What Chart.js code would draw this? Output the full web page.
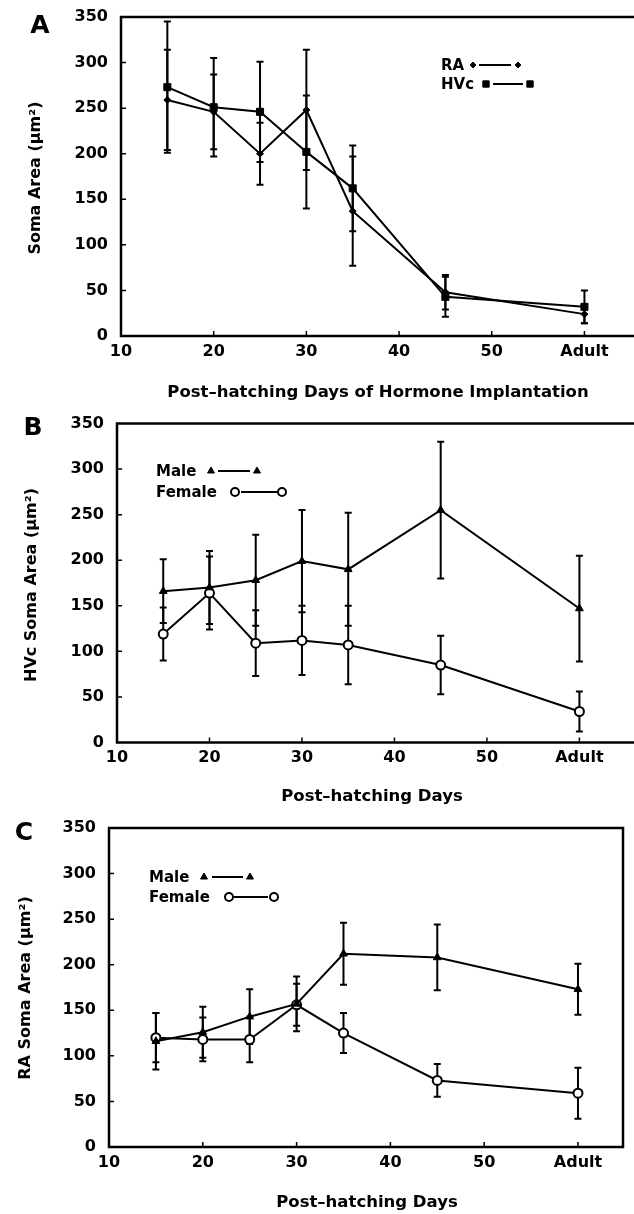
<!DOCTYPE html>
<html><head><meta charset="utf-8">
<script src="https://cdn.jsdelivr.net/npm/chart.js@4.4.1/dist/chart.umd.min.js"></script>
<style>
html,body{margin:0;padding:0;background:#fff;}
body{width:634px;height:1214px;position:relative;overflow:hidden;}
canvas{position:absolute;left:0;top:0;}
</style></head><body>
<canvas id="cA" width="634" height="1214"></canvas>
<canvas id="cB" width="634" height="1214"></canvas>
<canvas id="cC" width="634" height="1214"></canvas>
<script>
// ---- data ----
const days = [15, 20, 25, 30, 35, 45, 60];
const xTickValues = [10, 20, 30, 40, 50, 60];
const xTickLabels = ['10', '20', '30', '40', '50', 'Adult'];
const yTickValues = [0, 50, 100, 150, 200, 250, 300, 350];

const aRA = [259, 246, 200, 248, 137, 48, 24];
const aRAErr = [55, 41, 34, 66, 60, 19, 10];
const aHVc = [273, 251, 246, 202, 162, 43, 32];
const aHVcErr = [72, 54, 55, 62, 47, 22, 18];

const bMale = [166, 170, 178, 199, 190, 255, 147];
const bMaleErr = [35, 40, 50, 56, 62, 75, 58];
const bFemale = [119, 164, 109, 112, 107, 85, 34];
const bFemaleErr = [29, 40, 36, 38, 43, 32, 22];

const cMale = [116, 126, 143, 157, 212, 208, 173];
const cMaleErr = [31, 28, 30, 30, 34, 36, 28];
const cFemale = [120, 118, 118, 156, 125, 73, 59];
const cFemaleErr = [27, 24, 25, 23, 22, 18, 28];

// ---- rendering ----
const W = 634, H = 1214;
const FONT = "'DejaVu Sans', sans-serif";

const styles = {
  diamond: {pointStyle: 'rectRot', radius: 3.5, fill: '#000', bw: 1},
  square: {pointStyle: 'rect', radius: 5, fill: '#000', bw: 1},
  triangle: {pointStyle: 'triangle', radius: 4.5, fill: '#000', bw: 1},
  circle: {pointStyle: 'circle', radius: 4.5, fill: '#fff', bw: 2}
};

function mkDataset(label, vals, errs, st) {
  const s = styles[st];
  return {
    label: label,
    data: days.map((d, i) => ({x: d, y: vals[i]})),
    errors: errs,
    borderColor: '#000', borderWidth: 2, tension: 0,
    pointStyle: s.pointStyle, pointRadius: s.radius,
    pointBackgroundColor: s.fill, pointBorderColor: '#000', pointBorderWidth: s.bw,
    fill: false
  };
}

const framePlugin = {
  id: 'frame',
  beforeDatasetsDraw(chart) {
    const o = chart.options.plugins.frame;
    const ctx = chart.ctx, a = chart.chartArea;
    const xs = chart.scales.x, ys = chart.scales.y;
    ctx.save();
    ctx.strokeStyle = '#000';
    ctx.lineWidth = 2.5;
    ctx.lineCap = 'square';
    ctx.beginPath();
    if (o.rightBorder) {
      ctx.rect(a.left, a.top, a.right - a.left, a.bottom - a.top);
    } else {
      ctx.moveTo(W + 5, a.top); ctx.lineTo(a.left, a.top);
      ctx.lineTo(a.left, a.bottom); ctx.lineTo(W + 5, a.bottom);
    }
    ctx.stroke();
    ctx.lineWidth = 1.5;
    ctx.lineCap = 'butt';
    ctx.beginPath();
    xTickValues.forEach(v => {
      if (v === xs.min) return;
      const px = xs.getPixelForValue(v);
      ctx.moveTo(px, a.bottom); ctx.lineTo(px, a.bottom - 5);
    });
    yTickValues.forEach(v => {
      if (v === ys.min || v === ys.max) return;
      const py = ys.getPixelForValue(v);
      ctx.moveTo(a.left, py); ctx.lineTo(a.left + 5, py);
    });
    ctx.stroke();
    // error bars
    ctx.lineWidth = 2;
    chart.data.datasets.forEach(ds => {
      ds.data.forEach((pt, j) => {
        const e = ds.errors[j];
        const px = xs.getPixelForValue(pt.x);
        const y1 = ys.getPixelForValue(pt.y + e);
        const y2 = ys.getPixelForValue(pt.y - e);
        ctx.beginPath();
        ctx.moveTo(px, y1); ctx.lineTo(px, y2);
        ctx.moveTo(px - 3.5, y1); ctx.lineTo(px + 3.5, y1);
        ctx.moveTo(px - 3.5, y2); ctx.lineTo(px + 3.5, y2);
        ctx.stroke();
      });
    });
    ctx.restore();
  },
  afterDraw(chart) {
    const o = chart.options.plugins.frame;
    const ctx = chart.ctx;
    ctx.save();
    ctx.fillStyle = '#000';
    ctx.textBaseline = 'middle';
    // panel letter
    ctx.font = 'bold 25px ' + FONT;
    ctx.textAlign = 'center';
    ctx.fillText(o.letter.text, o.letter.x, o.letter.y);
    // x title
    ctx.font = 'bold 16.5px ' + FONT;
    ctx.fillText(o.xTitle.text, o.xTitle.x, o.xTitle.y);
    // y title
    ctx.save();
    ctx.translate(o.yTitle.x, o.yTitle.y);
    ctx.rotate(-Math.PI / 2);
    ctx.font = 'bold 16px ' + FONT;
    ctx.fillText(o.yTitle.text, 0, 0);
    ctx.restore();
    // legend
    o.legend.forEach(it => {
      ctx.font = 'bold 15px ' + FONT;
      ctx.textAlign = 'left';
      ctx.fillStyle = '#000';
      ctx.fillText(it.text, it.x, it.y + 1);
      ctx.strokeStyle = '#000';
      ctx.lineWidth = 2;
      ctx.beginPath();
      ctx.moveTo(it.l1, it.y); ctx.lineTo(it.l2, it.y);
      ctx.stroke();
      const s = styles[it.style];
      [it.m1, it.m2].forEach(mx => {
        ctx.fillStyle = s.fill;
        ctx.strokeStyle = '#000';
        ctx.lineWidth = s.bw;
        Chart.helpers.drawPoint(ctx, {pointStyle: s.pointStyle, radius: s.radius - 0.5, borderWidth: s.bw, rotation: 0}, mx, it.y);
      });
    });
    ctx.restore();
  }
};

function makeChart(id, p, datasets) {
  new Chart(document.getElementById(id), {
    type: 'line',
    data: {datasets: datasets},
    plugins: [framePlugin],
    options: {
      responsive: false,
      animation: false,
      events: [],
      layout: {padding: {top: p.top, right: W - p.right, left: 0, bottom: 0}},
      plugins: {
        legend: {display: false},
        tooltip: {enabled: false},
        frame: p
      },
      scales: {
        x: {
          type: 'linear', min: 10, max: p.xmax,
          afterBuildTicks: s => { s.ticks = xTickValues.map(v => ({value: v})); },
          ticks: {
            callback: v => xTickLabels[xTickValues.indexOf(v)],
            font: {family: FONT, size: 16, weight: 'bold'}, color: '#000',
            padding: -2, maxRotation: 0, autoSkip: false
          },
          grid: {display: false}, border: {display: false},
          afterFit: s => { s.height = H - p.bottom; s.paddingLeft = 0; s.paddingRight = 0; }
        },
        y: {
          type: 'linear', min: 0, max: 350,
          afterBuildTicks: s => { s.ticks = yTickValues.map(v => ({value: v})); },
          ticks: {font: {family: FONT, size: 16, weight: 'bold'}, color: '#000', padding: 5},
          grid: {display: false}, border: {display: false},
          afterFit: s => { s.width = p.left; s.paddingTop = 0; s.paddingBottom = 0; }
        }
      }
    }
  });
}

makeChart('cA', {
  top: 17, bottom: 336, left: 121, right: 634, xmax: 64.7, rightBorder: false,
  letter: {text: 'A', x: 40, y: 26},
  xTitle: {text: 'Post\u2013hatching Days of Hormone Implantation', x: 378, y: 393},
  yTitle: {text: 'Soma Area (\u03bcm\u00b2)', x: 36, y: 178},
  legend: [
    {text: 'RA', x: 441, y: 65, style: 'diamond', m1: 473, l1: 479, l2: 511, m2: 518},
    {text: 'HVc', x: 441, y: 84, style: 'square', m1: 486, l1: 493, l2: 523, m2: 530}
  ]
}, [mkDataset('RA', aRA, aRAErr, 'diamond'), mkDataset('HVc', aHVc, aHVcErr, 'square')]);

makeChart('cB', {
  top: 423.5, bottom: 742.5, left: 117, right: 634, xmax: 65.2, rightBorder: false,
  letter: {text: 'B', x: 33, y: 428},
  xTitle: {text: 'Post\u2013hatching Days', x: 372, y: 797},
  yTitle: {text: 'HVc Soma Area (\u03bcm\u00b2)', x: 32, y: 585},
  legend: [
    {text: 'Male', x: 156, y: 471, style: 'triangle', m1: 211, l1: 218, l2: 250, m2: 257},
    {text: 'Female', x: 156, y: 492, style: 'circle', m1: 235, l1: 241, l2: 277, m2: 282}
  ]
}, [mkDataset('Male', bMale, bMaleErr, 'triangle'), mkDataset('Female', bFemale, bFemaleErr, 'circle')]);

makeChart('cC', {
  top: 828, bottom: 1147, left: 109, right: 623, xmax: 64.8, rightBorder: true,
  letter: {text: 'C', x: 24, y: 833},
  xTitle: {text: 'Post\u2013hatching Days', x: 367, y: 1203},
  yTitle: {text: 'RA Soma Area (\u03bcm\u00b2)', x: 26, y: 988},
  legend: [
    {text: 'Male', x: 149, y: 877, style: 'triangle', m1: 204, l1: 212, l2: 243, m2: 250},
    {text: 'Female', x: 149, y: 897, style: 'circle', m1: 229, l1: 234, l2: 268, m2: 274}
  ]
}, [mkDataset('Male', cMale, cMaleErr, 'triangle'), mkDataset('Female', cFemale, cFemaleErr, 'circle')]);
</script>
</body></html>
